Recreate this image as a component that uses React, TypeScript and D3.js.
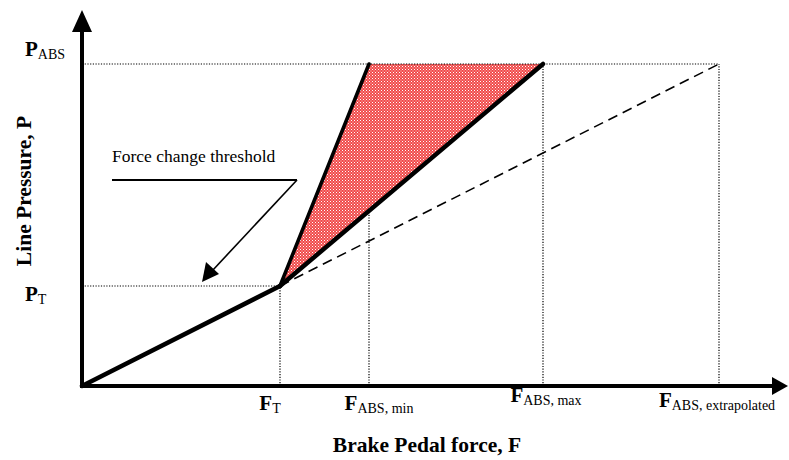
import React from 'react';
import * as d3 from 'd3';

// Marked force levels on the horizontal axis (F) and pressure levels on the vertical axis (P)
const forceKeys = ['T', 'ABS, min', 'ABS, max', 'ABS, extrapolated'];
const forceValues = [19.8, 28.7, 46.1, 63.7];
const pressureKeys = ['T', 'ABS'];
const pressureValues = [10, 32.2];
const axisMax = { force: 70.6, pressure: 37.6 };

const width = 789;
const height = 460;
const margin = { top: 10, right: 1, bottom: 74, left: 82 };

const App = () => {
  const F = Object.fromEntries(forceKeys.map((k, i) => [k, forceValues[i]]));
  const P = Object.fromEntries(pressureKeys.map((k, i) => [k, pressureValues[i]]));

  const x = d3.scaleLinear().domain([0, axisMax.force]).range([margin.left, width - margin.right]);
  const y = d3.scaleLinear().domain([0, axisMax.pressure]).range([height - margin.bottom, margin.top]);

  const line = d3.line<[number, number]>().x(d => x(d[0])).y(d => y(d[1]));

  const knee: [number, number] = [F['T'], P['T']];
  const baseSeg: [number, number][] = [[0, 0], knee];
  const steepSeg: [number, number][] = [knee, [F['ABS, min'], P['ABS']]];
  const mainSeg: [number, number][] = [knee, [F['ABS, max'], P['ABS']]];
  const extrapSeg: [number, number][] = [knee, [F['ABS, extrapolated'], P['ABS']]];
  const band: [number, number][] = [knee, [F['ABS, min'], P['ABS']], [F['ABS, max'], P['ABS']]];

  // pressure on the main segment at F_ABS,min (for the dotted guide)
  const slope = (P['ABS'] - P['T']) / (F['ABS, max'] - F['T']);
  const pAtMin = P['T'] + slope * (F['ABS, min'] - F['T']);

  const x0 = x(0);
  const y0 = y(0);
  const font = '"Liberation Serif", "Times New Roman", serif';

  const dotted = { stroke: '#000', strokeWidth: 1.2, strokeDasharray: '1.2,1.5', fill: 'none' };

  // small horizontal tweaks for the tick labels
  const labelShift: Record<string, number> = { 'T': -10, 'ABS, min': 10, 'ABS, max': 3, 'ABS, extrapolated': -2 };
  const labelBase: Record<string, number> = { 'T': 410, 'ABS, min': 410, 'ABS, max': 402, 'ABS, extrapolated': 407 };

  return (
    <svg width={width} height={height} style={{ display: 'block', position: 'absolute', left: 0, top: 0 }}>
      <defs>
        <pattern id="hatch" width="3" height="3" patternUnits="userSpaceOnUse">
          <rect width="3" height="3" fill="#f04a4a" />
          <rect x="0" y="0" width="1" height="1" fill="#fff" />
          <rect x="1.5" y="1.5" width="1" height="1" fill="#fff" opacity="0.8" />
        </pattern>
      </defs>
      <rect width={width} height={height} fill="#fff" />

      {/* hatched band between steep and main segments */}
      <path d={line(band) + 'Z'} fill="url(#hatch)" stroke="none" />

      {/* dotted guides */}
      <line x1={x0} x2={x(F['ABS, extrapolated'])} y1={y(P['ABS'])} y2={y(P['ABS'])} style={dotted} />
      <line x1={x0} x2={x(F['T'])} y1={y(P['T'])} y2={y(P['T'])} style={dotted} />
      <line x1={x(F['T'])} x2={x(F['T'])} y1={y0} y2={y(P['T'])} style={dotted} />
      <line x1={x(F['ABS, min'])} x2={x(F['ABS, min'])} y1={y0} y2={y(pAtMin)} style={dotted} />
      <line x1={x(F['ABS, max'])} x2={x(F['ABS, max'])} y1={y0} y2={y(P['ABS'])} style={dotted} />
      <line x1={x(F['ABS, extrapolated'])} x2={x(F['ABS, extrapolated'])} y1={y0} y2={y(P['ABS'])} style={dotted} />

      {/* extrapolated dashed line */}
      <path d={line(extrapSeg) || ''} fill="none" stroke="#000" strokeWidth={1.6} strokeDasharray="10,6" />

      {/* thick characteristic lines */}
      <path d={line(baseSeg) || ''} fill="none" stroke="#000" strokeWidth={4.5} strokeLinecap="round" />
      <path d={line(steepSeg) || ''} fill="none" stroke="#000" strokeWidth={3.6} strokeLinecap="round" />
      <path d={line(mainSeg) || ''} fill="none" stroke="#000" strokeWidth={4.5} strokeLinecap="round" />

      {/* axes with arrow heads */}
      <line x1={x0} x2={x0} y1={y0 + 2} y2={y(axisMax.pressure) + 20} stroke="#000" strokeWidth={4} />
      <path d={`M${x0},${y(axisMax.pressure)} L${x0 - 10},${y(axisMax.pressure) + 22} L${x0 + 10},${y(axisMax.pressure) + 22} Z`} fill="#000" />
      <line x1={x0 - 2} x2={x(axisMax.force) - 14} y1={y0} y2={y0} stroke="#000" strokeWidth={4} />
      <path d={`M${x(axisMax.force)},${y0} L${x(axisMax.force) - 16},${y0 - 9} L${x(axisMax.force) - 16},${y0 + 9} Z`} fill="#000" />

      {/* force labels */}
      {forceKeys.map(k => (
        <text key={k} x={x(F[k]) + labelShift[k]} y={labelBase[k]} textAnchor="middle" fontFamily={font}>
          <tspan fontWeight="bold" fontSize={21}>F</tspan>
          <tspan fontSize={14} dy={3}>{k}</tspan>
        </text>
      ))}

      {/* pressure labels */}
      {pressureKeys.map(k => (
        <text key={k} x={25} y={y(P[k]) + (k === 'T' ? 15 : -8)} fontFamily={font}>
          <tspan fontWeight="bold" fontSize={21}>P</tspan>
          <tspan fontSize={14} dy={3}>{k}</tspan>
        </text>
      ))}

      {/* axis titles */}
      <text x={427} y={452} textAnchor="middle" fontFamily={font} fontWeight="bold" fontSize={21.5}>
        Brake Pedal force, F
      </text>
      <text transform={`translate(31, 191) rotate(-90)`} textAnchor="middle" fontFamily={font} fontWeight="bold" fontSize={21.5}>
        Line Pressure, P
      </text>

      {/* annotation */}
      <text x={112} y={162} fontFamily={font} fontSize={17.5}>Force change threshold</text>
      <line x1={112} x2={297} y1={180} y2={180} stroke="#000" strokeWidth={2} />
      <line x1={297} x2={212} y1={180} y2={271} stroke="#000" strokeWidth={1.6} />
      <path d="M202,282 L206,262 L219,274 Z" fill="#000" />
    </svg>
  );
};

export default App;
